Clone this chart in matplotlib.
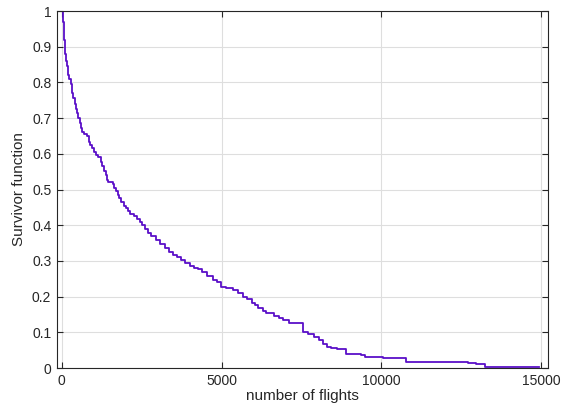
import numpy as np
import matplotlib
matplotlib.use("Agg")
import matplotlib.pyplot as plt

# step points of the survivor curve (flights, survival)
flights = [0, 40, 60, 80, 100, 120, 140, 160, 190, 210, 240, 280, 310, 330,
           370, 410, 450, 490, 520, 560, 600, 650, 700, 800, 850, 900, 960,
           1010, 1060, 1150, 1220, 1270, 1320, 1380, 1430, 1460, 1600, 1650,
           1700, 1750, 1800, 1870, 1940, 2000, 2080, 2150, 2250, 2350, 2440,
           2520, 2600, 2700, 2800, 2960, 3080, 3220, 3350, 3480, 3600, 3740,
           3850, 4000, 4150, 4260, 4400, 4550, 4730, 4850, 4990, 5150, 5350,
           5500, 5670, 5800, 5950, 6030, 6150, 6280, 6400, 6650, 6800, 6920,
           7100, 7540, 7700, 7900, 8050, 8170, 8300, 8430, 8600, 8900, 9370,
           9500, 9890, 10040, 10770, 12700, 12950, 13250, 14940]
survival = [1.0, 0.97, 0.94, 0.92, 0.90, 0.88, 0.86, 0.845, 0.83, 0.82, 0.81,
            0.795, 0.78, 0.77, 0.755, 0.74, 0.725, 0.715, 0.70, 0.685, 0.672,
            0.662, 0.655, 0.65, 0.632, 0.625, 0.615, 0.605, 0.597, 0.59,
            0.578, 0.565, 0.553, 0.54, 0.527, 0.52, 0.515, 0.505, 0.495,
            0.485, 0.475, 0.465, 0.455, 0.448, 0.44, 0.432, 0.425, 0.418,
            0.41, 0.40, 0.39, 0.378, 0.37, 0.359, 0.348, 0.336, 0.325, 0.317,
            0.31, 0.303, 0.295, 0.286, 0.28, 0.276, 0.268, 0.258, 0.247,
            0.24, 0.228, 0.225, 0.218, 0.21, 0.20, 0.192, 0.183, 0.176,
            0.168, 0.16, 0.153, 0.146, 0.14, 0.134, 0.125, 0.102, 0.094,
            0.088, 0.078, 0.066, 0.06, 0.055, 0.052, 0.04, 0.036, 0.032,
            0.03, 0.027, 0.018, 0.015, 0.01, 0.004, 0.004]

yticks = np.round(np.arange(0, 1.01, 0.1), 1)
ytick_labels = ["0"] + [f"{v:g}" for v in yticks[1:-1]] + ["1"]
xticks = [0, 5000, 10000, 15000]

plt.rcParams["font.family"] = ["Liberation Sans", "DejaVu Sans"]

fig = plt.figure(figsize=(5.63, 4.08), dpi=100)
ax = fig.add_axes([0.101, 0.098, 0.872, 0.875])

ax.step(flights, survival, where="post", color="#5A0FC8", lw=1.3)

ax.set_xlim(-150, 15200)
ax.set_ylim(0, 1)
ax.set_xticks(xticks)
ax.set_yticks(yticks)
ax.set_yticklabels(ytick_labels)
ax.grid(True, color="#dedede", lw=0.8)
ax.set_axisbelow(True)

ax.tick_params(direction="in", top=True, right=True, length=4, width=0.8,
               color="#262626", labelsize=10, labelcolor="#262626", pad=4)
for s in ax.spines.values():
    s.set_color("#262626")
    s.set_linewidth(0.8)

ax.set_xlabel("number of flights", fontsize=11, color="#262626", labelpad=1)
ax.set_ylabel("Survivor function", fontsize=11, color="#262626", labelpad=4)

fig.savefig("out.png", dpi=100)
